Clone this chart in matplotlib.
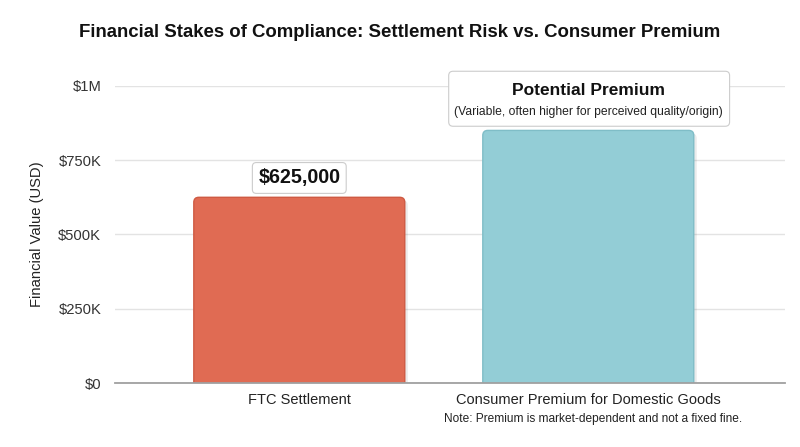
import matplotlib.pyplot as plt
from matplotlib.patches import FancyBboxPatch
from matplotlib.ticker import FuncFormatter

plt.rcParams['font.family'] = ['Liberation Sans', 'DejaVu Sans']

categories = ['FTC Settlement', 'Consumer Premium for Domestic Goods']
values = [625000, 850000]
colors = ['#E06B53', '#93CDD6']
edges = ['#CF5A43', '#7FBDC7']
yticks = [0, 250000, 500000, 750000, 1000000]

fig = plt.figure(figsize=(8, 4.47), dpi=100)
ax = fig.add_axes([0.144, 0.143, 0.837, 0.665])

bars = ax.bar(range(len(categories)), values, width=0.73, color=colors)

# swap the plain bars for rounded ones (same geometry)
px_x = 289.0           # pixels per category unit
px_y = 297.0 / 1e6     # pixels per dollar
for b, fc, ec in zip(bars, colors, edges):
    x0, w, h = b.get_x(), b.get_width(), b.get_height()
    b.set_visible(False)
    r = 5 / px_x
    # soft shadow
    sh = FancyBboxPatch((x0 + 3 / px_x, -60000), w, h + 60000 - 3 / px_y,
                        boxstyle=f'round,pad=0,rounding_size={r}',
                        mutation_aspect=px_x / px_y,
                        fc='#000000', ec='none', alpha=0.08, zorder=2)
    ax.add_patch(sh)
    p = FancyBboxPatch((x0, -60000), w, h + 60000,
                       boxstyle=f'round,pad=0,rounding_size={r}',
                       mutation_aspect=px_x / px_y,
                       fc=fc, ec=ec, lw=1.0, zorder=3)
    ax.add_patch(p)

ax.set_xlim(-0.637, 1.68)
ax.set_ylim(0, 1000000)
ax.set_yticks(yticks)
ax.yaxis.set_major_formatter(FuncFormatter(
    lambda v, _: '$0' if v == 0 else ('$1M' if v >= 1e6 else f'${int(v/1000)}K')))
ax.set_xticks(range(len(categories)))
ax.set_xticklabels(categories, fontsize=10.5, color='#222222')
ax.tick_params(axis='y', length=0, pad=10, labelsize=10.6, labelcolor='#333333')
ax.tick_params(axis='x', length=0, pad=7)
ax.grid(axis='y', color='#E3E3E3', lw=1.0, zorder=0)
ax.set_axisbelow(True)
for s in ['top', 'right', 'left']:
    ax.spines[s].set_visible(False)
ax.spines['bottom'].set_color('#A0A0A0')
ax.spines['bottom'].set_linewidth(1.3)
ax.spines['bottom'].set_zorder(4)

ax.set_ylabel('Financial Value (USD)', fontsize=10.6, color='#222222', labelpad=10)

fig.text(0.5, 0.928, 'Financial Stakes of Compliance: Settlement Risk vs. Consumer Premium',
         ha='center', va='center', fontsize=13.4, fontweight='bold', color='#111111')

# value label on the settlement bar
ax.text(0, 0.69e6, '$625,000', ha='center', va='center',
        fontsize=14.2, fontweight='bold', color='#111111', zorder=5,
        bbox=dict(boxstyle='round,pad=0.3,rounding_size=0.2', fc='white', ec='#CCCCCC', lw=0.8))

# premium label box
ax.add_patch(FancyBboxPatch((0.517, 0.864e6), 0.972, 0.185e6,
                            boxstyle='round,pad=0,rounding_size=0.015',
                            mutation_aspect=px_x / px_y,
                            fc='white', ec='#CCCCCC', lw=0.8, zorder=5, clip_on=False))
ax.text(1, 0.985e6, 'Potential Premium', ha='center', va='center',
        fontsize=12.5, fontweight='bold', color='#111111', zorder=6)
ax.text(1, 0.912e6, '(Variable, often higher for perceived quality/origin)',
        ha='center', va='center', fontsize=8.7, color='#222222', zorder=6)

fig.text(593 / 800, 1 - 419 / 447, 'Note: Premium is market-dependent and not a fixed fine.',
         ha='center', va='center', fontsize=8.6, color='#222222')

fig.savefig('out.png', dpi=100)
